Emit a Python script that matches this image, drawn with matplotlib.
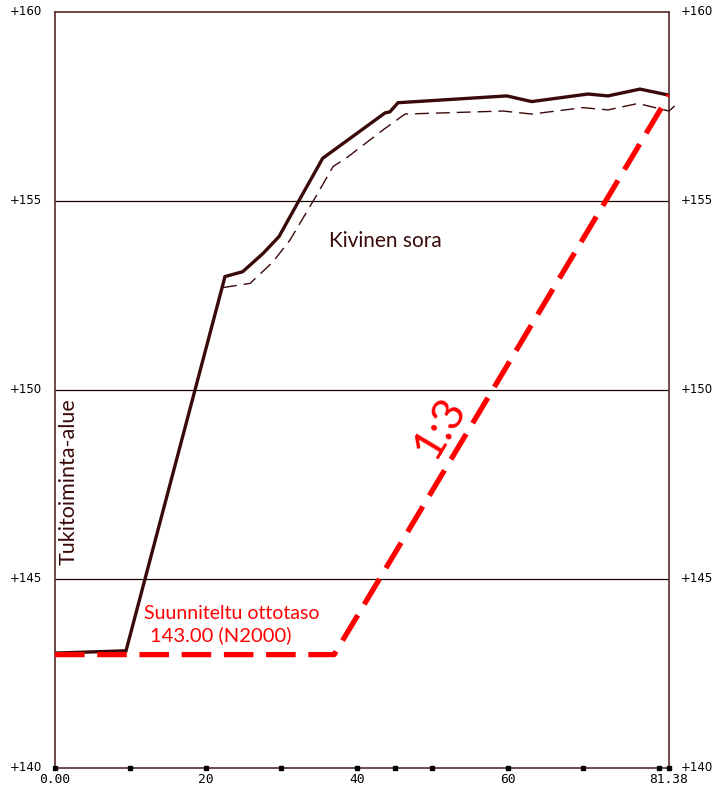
import numpy as np
import matplotlib
matplotlib.use("Agg")
import matplotlib.pyplot as plt

# maanpinta (mitattu)
ground_x = [0.0, 9.41, 22.53, 24.88, 27.61, 29.69, 32.25, 35.48, 43.74, 44.40, 45.46,
            59.87, 63.18, 70.64, 73.29, 77.53, 81.38]
ground_y = [143.04, 143.10, 153.00, 153.13, 153.62, 154.06, 154.98, 156.13, 157.33, 157.36, 157.60,
            157.78, 157.63, 157.83, 157.78, 157.96, 157.80]

# pintamaan alapinta (katkoviiva)
soil_x = [22.27, 25.85, 28.89, 31.15, 34.46, 36.85, 38.83, 43.47, 46.39, 59.38, 63.22,
          69.98, 73.29, 77.27, 81.38, 82.44]
soil_y = [152.71, 152.82, 153.39, 153.97, 155.08, 155.91, 156.17, 156.88, 157.30, 157.38, 157.30,
          157.47, 157.41, 157.58, 157.38, 157.57]

# suunniteltu ottotaso + luiska 1:3
plan_x = [0.0, 37.0, 81.38]
plan_y = [143.0, 143.0, 157.80]

x_ticks = [0, 10, 20, 30, 40, 45, 50, 60, 70, 80, 81.38]
x_labels = {0: "0.00", 20: "20", 40: "40", 60: "60", 81.38: "81.38"}
y_ticks = [140, 145, 150, 155, 160]

brown = "#5a2a2a"
dark = "#3a0a0a"

fig = plt.figure(figsize=(7.24, 7.88), dpi=100)
ax = fig.add_axes([55 / 724, 20 / 788, 614 / 724, 756 / 788])
ax.set_xlim(0, 81.38)
ax.set_ylim(140, 160)

for s in ax.spines.values():
    s.set_color(brown)
    s.set_linewidth(1.2)

for y in [145, 150, 155]:
    ax.axhline(y, color="#1a0505", lw=0.9)

ax.plot(ground_x, ground_y, color=dark, lw=2.4, solid_joinstyle="miter", zorder=3)
ax.plot(soil_x, soil_y, color=dark, lw=1.0, dashes=(10, 5), clip_on=False, zorder=3)
ax.plot(plan_x, plan_y, color="#ff0000", lw=3.8, dashes=(5.6, 2.4), zorder=4)

# akselin merkit
ax.set_xticks([])
ax.set_yticks([])
ax.plot(x_ticks, [140] * len(x_ticks), "s", color="black", ms=2.6, clip_on=False, zorder=5)
for xv, lab in x_labels.items():
    ax.text(xv, 139.87, lab, ha="center", va="top", fontsize=9.3,
            family="DejaVu Sans Mono", color="black")
for yv in y_ticks:
    ax.text(-1.7, yv, f"+{yv}", ha="right", va="center", fontsize=8.5, color="black")
    ax.text(83.0, yv, f"+{yv}", ha="left", va="center", fontsize=8.5, color="black")

font = "Lato"
ax.text(43.8, 153.94, "Kivinen sora", fontsize=15, family=font, color=dark,
        ha="center", va="center")
ax.text(1.75, 147.57, "Tukitoiminta-alue", fontsize=15.5, family=font, color=dark,
        rotation=90, ha="center", va="center")
ax.text(11.8, 144.1, "Suunniteltu ottotaso", fontsize=14, family=font, color="#ff0000",
        ha="left", va="center")
ax.text(12.6, 143.5, "143.00 (N2000)", fontsize=14.5, family=font, color="#ff0000",
        ha="left", va="center")
ax.text(51.0, 149.0, "1:3", fontsize=32, family=font, color="#ff0000",
        rotation=59, ha="center", va="center")

fig.savefig("out.png", dpi=100)
